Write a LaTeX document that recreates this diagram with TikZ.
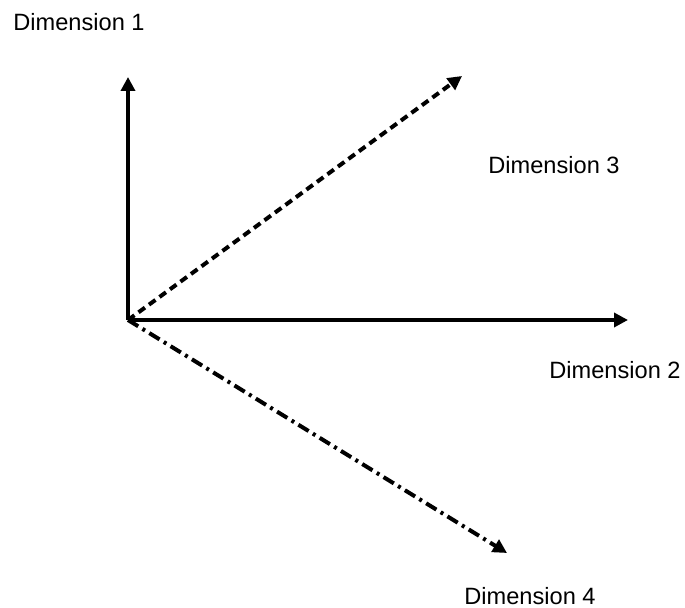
\documentclass[tikz,border=0pt]{standalone}
\usepackage{fontspec}
\setmainfont{Liberation Sans}
\usetikzlibrary{arrows.meta}
\begin{document}
\begin{tikzpicture}[x=0.5pt, y=-0.5pt,
  every node/.style={font=\fontsize{11.8}{14}\selectfont},
  asse/.style={line width=2pt, -{Triangle[length=7pt,width=7pt]}}]
\useasboundingbox (0,0) rectangle (685,608);

% origine e punte
\coordinate (O) at (128,320);
\coordinate (d1) at (128,77);
\coordinate (d2) at (628,320);
\coordinate (d3) at (462,76);
\coordinate (d4) at (507,553);

% assi
\draw[asse] (O) -- (d1);
\draw[asse] (O) -- (d2);
\draw[asse, dash pattern=on 4pt off 2.5pt] (O) -- (d3);
\draw[asse, dash pattern=on 6pt off 2.5pt on 1.5pt off 2.5pt] (O) -- (d4);

% etichette
\node (l1) at (79,22) {Dimension 1};
\node (l2) at (615,370) {Dimension 2};
\node (l3) at (554,165) {Dimension 3};
\node (l4) at (530,596) {Dimension 4};

\end{tikzpicture}
\end{document}
